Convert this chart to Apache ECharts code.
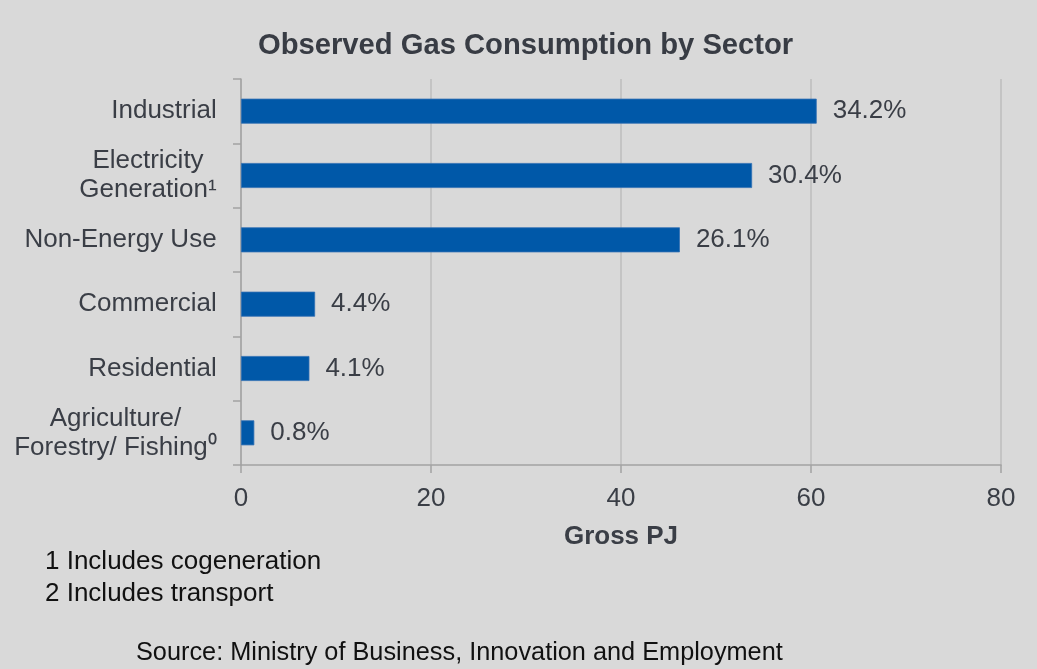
<!DOCTYPE html>
<html>
<head>
<meta charset="utf-8">
<title>Observed Gas Consumption by Sector</title>
<script src="https://cdn.jsdelivr.net/npm/echarts@6/dist/echarts.min.js"></script>
<style>
  html, body { margin: 0; padding: 0; background: #d9d9d9; }
  #chart { width: 1037px; height: 669px; }
</style>
</head>
<body>
<div id="chart"></div>
<script>
// Sectors, top to bottom
const categories = [
  'Industrial',
  'Electricity\nGeneration¹',
  'Non-Energy Use',
  'Commercial',
  'Residential',
  'Agriculture/\nForestry/ Fishing⁰'
];
// Gross gas use per sector, PJ
const grossPJ = [60.6, 53.8, 46.2, 7.8, 7.2, 1.4];
// Value axis range
const axisMin = 0;
const axisMax = 80;
const axisStep = 20;
// Notes under the chart
const footnotes = ['1 Includes cogeneration', '2 Includes transport'];
const sourceNote = 'Source: Ministry of Business, Innovation and Employment';

const FONT = '"Liberation Sans", Arial, Helvetica, sans-serif';
const TEXT = '#3a3e46';
const total = grossPJ.reduce((a, b) => a + b, 0);

// Multi-line category names are centred line-by-line inside a right-aligned block
const measure = document.createElement('canvas').getContext('2d');
measure.font = '26px ' + FONT;
const rich = {};
categories.forEach((c, i) => {
  const w = Math.max(...c.split('\n').map(l => measure.measureText(l).width));
  rich['c' + i] = { width: Math.ceil(w), align: 'center', fontSize: 26, lineHeight: 29, color: TEXT, fontFamily: FONT };
});

const chart = echarts.init(document.getElementById('chart'), null, { renderer: 'canvas' });

chart.setOption({
  backgroundColor: '#d9d9d9',
  animation: false,
  textStyle: { fontFamily: FONT },
  title: {
    text: 'Observed Gas Consumption by Sector',
    left: 253,
    top: 26,
    textStyle: { fontFamily: FONT, fontSize: 29.2, fontWeight: 'bold', color: '#383c44' }
  },
  grid: { left: 241, right: 36, top: 79, bottom: 204, containLabel: false },
  xAxis: {
    type: 'value',
    min: axisMin,
    max: axisMax,
    interval: axisStep,
    name: 'Gross PJ',
    nameLocation: 'middle',
    nameGap: 59,
    nameTextStyle: { fontFamily: FONT, fontSize: 26, fontWeight: 'bold', color: TEXT },
    axisLine: { show: true, lineStyle: { color: '#a3a3a3', width: 1.5 } },
    axisTick: { show: true, length: 8, lineStyle: { color: '#a3a3a3', width: 1.5 } },
    axisLabel: { margin: 21, fontSize: 26, color: TEXT, fontFamily: FONT },
    splitLine: { show: true, lineStyle: { color: '#bdbdbd', width: 1.5 } }
  },
  yAxis: {
    type: 'category',
    data: categories,
    inverse: true,
    axisLine: { show: true, lineStyle: { color: '#a3a3a3', width: 1.5 } },
    axisTick: { show: true, length: 8, lineStyle: { color: '#a3a3a3', width: 1.5 } },
    axisLabel: {
      margin: 24,
      fontSize: 26,
      lineHeight: 29,
      color: TEXT,
      fontFamily: FONT,
      formatter: (value, index) => value.split('\n').map(l => '{c' + index + '|' + l + '}').join('\n'),
      rich: rich
    },
    splitLine: { show: false }
  },
  series: [{
    type: 'bar',
    data: grossPJ,
    barWidth: 25,
    itemStyle: { color: '#0058a8', borderColor: '#3170b4', borderWidth: 0.8 },
    label: {
      show: true,
      position: 'right',
      distance: 16,
      fontSize: 26,
      color: TEXT,
      fontFamily: FONT,
      formatter: p => (p.value / total * 100).toFixed(1) + '%'
    }
  }],
  graphic: [
    ...footnotes.map((t, i) => ({
      type: 'text',
      x: 45,
      y: 562 + i * 32,
      style: { text: t, fontSize: 26, fontFamily: FONT, fill: '#111111', verticalAlign: 'middle' }
    })),
    {
      type: 'text',
      x: 136,
      y: 653,
      style: { text: sourceNote, fontSize: 25.3, fontFamily: FONT, fill: '#111111', verticalAlign: 'middle' }
    }
  ]
});
</script>
</body>
</html>
